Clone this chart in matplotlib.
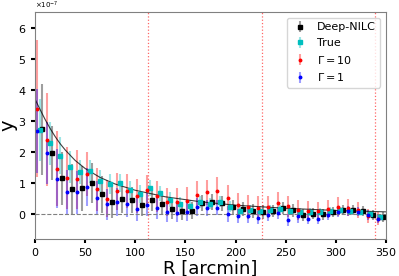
import numpy as np
import matplotlib
matplotlib.use('Agg')
import matplotlib.pyplot as plt

# ── Data (units of 1e-7) ───────────────────────────────────────────────────
r_bins = np.arange(35) * 10.0 + 2.0

deep_nilc = [2.73, 1.97, 1.15, 0.82, 0.83, 1.01, 0.64, 0.38, 0.48, 0.45,
             0.31, 0.47, 0.34, 0.16, 0.10, 0.11, 0.36, 0.38, 0.35, 0.23,
             0.16, 0.10, 0.06, 0.10, 0.20, 0.12, -0.02, 0.02, 0.00, 0.07,
             0.14, 0.12, 0.11, -0.03, -0.09]
deep_nilc_err = [1.47, 0.88, 0.85, 0.80, 0.72, 0.65, 0.60, 0.50, 0.45, 0.42,
                 0.38, 0.36, 0.33, 0.30, 0.30, 0.28, 0.27, 0.26, 0.25, 0.24,
                 0.23, 0.22, 0.22, 0.20, 0.20, 0.20, 0.19, 0.18, 0.18, 0.17,
                 0.17, 0.16, 0.16, 0.15, 0.15]

true_y = [2.72, 2.28, 1.88, 1.52, 1.35, 1.38, 1.07, 0.98, 1.01, 0.77,
          0.65, 0.83, 0.67, 0.46, 0.32, 0.26, 0.39, 0.34, 0.40, 0.24,
          0.11, 0.13, 0.10, 0.15, 0.17, 0.10, 0.07, 0.07, 0.08, 0.10,
          0.13, 0.10, 0.07, -0.01, -0.09]
true_err = [1.00, 0.70, 0.60, 0.50, 0.38, 0.36, 0.34, 0.32, 0.30, 0.30,
            0.28, 0.26, 0.25, 0.24, 0.22, 0.20, 0.20, 0.18, 0.18, 0.17,
            0.16, 0.15, 0.15, 0.14, 0.14, 0.13, 0.13, 0.12, 0.12, 0.12,
            0.11, 0.11, 0.10, 0.10, 0.10]

gamma10 = [3.40, 2.40, 1.47, 1.16, 1.12, 1.30, 0.80, 0.50, 0.74, 0.74,
           0.58, 0.77, 0.58, 0.39, 0.38, 0.41, 0.63, 0.71, 0.74, 0.53,
           0.28, 0.24, 0.21, 0.22, 0.37, 0.26, 0.13, 0.11, 0.09, 0.17,
           0.24, 0.21, 0.13, -0.05, -0.14]
gamma10_err = [2.20, 1.50, 1.20, 1.00, 0.95, 0.70, 0.70, 0.60, 0.60, 0.55,
               0.55, 0.50, 0.50, 0.45, 0.45, 0.45, 0.45, 0.40, 0.45, 0.40,
               0.40, 0.38, 0.36, 0.35, 0.35, 0.34, 0.33, 0.32, 0.30, 0.30,
               0.30, 0.28, 0.25, 0.22, 0.20]

gamma1 = [2.68, 1.98, 1.14, 0.70, 0.70, 0.88, 0.52, 0.32, 0.38, 0.32,
          0.18, 0.31, 0.20, 0.08, 0.05, 0.07, 0.23, 0.20, 0.21, 0.00,
          -0.06, -0.06, -0.11, -0.03, 0.04, -0.18, -0.07, -0.14, -0.15, -0.02,
          0.08, 0.10, 0.08, -0.03, -0.17]
gamma1_err = [1.35, 1.00, 0.95, 0.72, 0.68, 0.62, 0.55, 0.50, 0.45, 0.42,
              0.40, 0.38, 0.35, 0.33, 0.30, 0.30, 0.28, 0.27, 0.25, 0.25,
              0.24, 0.22, 0.22, 0.20, 0.20, 0.20, 0.20, 0.18, 0.18, 0.18,
              0.17, 0.16, 0.15, 0.15, 0.13]

# model profile
model_r = [0, 5, 10, 15, 20, 25, 30, 40, 50, 65, 80, 100, 130, 165, 200, 250, 300, 350]
model_y = [3.70, 3.37, 3.05, 2.76, 2.50, 2.27, 2.07, 1.73, 1.47, 1.18, 0.97,
           0.77, 0.56, 0.40, 0.29, 0.19, 0.12, 0.075]

vlines_r = [113, 226, 339]

SCALE = 1e-7

# ── Plot ───────────────────────────────────────────────────────────────────
fig = plt.figure(figsize=(3.99, 2.76), dpi=100)
ax = fig.add_axes([0.088, 0.134, 0.879, 0.821])

series = [
    (r_bins + 5.0, deep_nilc, deep_nilc_err, 'k', 's', 2.6, 'Deep-NILC'),
    (r_bins + 2.5, true_y, true_err, 'c', 's', 2.6, 'True'),
    (r_bins, gamma10, gamma10_err, 'r', 'o', 1.8, r'$\Gamma = 10$'),
    (r_bins, gamma1, gamma1_err, 'b', 'o', 1.8, r'$\Gamma = 1$'),
]
for x, y, e, c, m, ms, lab in series:
    ecol = matplotlib.colors.to_rgba(c, 0.38)
    ax.errorbar(x, np.array(y) * SCALE, yerr=np.array(e) * SCALE, fmt=m,
                color=c, ecolor=ecol, elinewidth=1.5, ms=ms, capsize=0,
                label=lab)

ax.plot(model_r, np.array(model_y) * SCALE, color='k', lw=0.8, alpha=0.75)
ax.axhline(0, color='gray', ls='--', lw=0.8)
for v in vlines_r:
    ax.axvline(v, color='r', ls=':', lw=0.9, alpha=0.6)

ax.set_xlim(0, 350)
ax.set_ylim(-0.8 * SCALE, 6.5 * SCALE)
ax.set_yticks(np.arange(0, 7) * SCALE)
ax.set_xticks(np.arange(0, 351, 50))
ax.ticklabel_format(axis='y', style='sci', scilimits=(0, 0), useMathText=True)
ax.tick_params(labelsize=8, width=1.5, length=3)
ax.yaxis.get_offset_text().set_fontsize(5)
for s in ax.spines.values():
    s.set_color('gray')

ax.set_xlabel('R [arcmin]', fontsize=13, labelpad=1)
ax.set_ylabel('y', fontsize=14)
ax.yaxis.set_label_coords(-0.05, 0.5)
ax.legend(loc='upper right', fontsize=8, handlelength=1.5)

plt.savefig('out.png', dpi=100)
plt.close()
